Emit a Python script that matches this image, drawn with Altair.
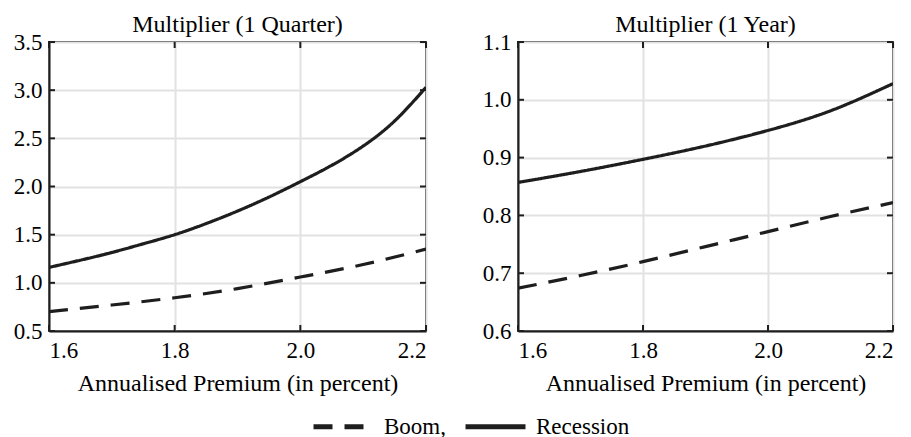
import altair as alt
import pandas as pd

# Annualised premium (in percent) on the horizontal axis
premium = [1.6, 1.7, 1.8, 1.9, 2.0, 2.1, 2.2]
premium_fine = [1.6, 1.65, 1.7, 1.75, 1.8, 1.85, 1.9, 1.95, 2.0, 2.05, 2.1, 2.15, 2.2]

# Multiplier after one quarter
quarter_boom = [0.70, 0.77, 0.845, 0.94, 1.06, 1.19, 1.35]
quarter_recession = [1.16, 1.235, 1.315, 1.405, 1.50, 1.615, 1.745, 1.89, 2.05,
                     2.22, 2.42, 2.68, 3.03]

# Multiplier after one year
year_boom = [0.674, 0.696, 0.720, 0.746, 0.772, 0.798, 0.822]
year_recession = [0.857, 0.876, 0.897, 0.920, 0.947, 0.981, 1.028]

x_ticks = [1.6, 1.8, 2.0, 2.2]
quarter_ticks = [0.5, 1.0, 1.5, 2.0, 2.5, 3.0, 3.5]
year_ticks = [0.6, 0.7, 0.8, 0.9, 1.0, 1.1]

series_names = ["Boom", "Recession"]

FONT = "Liberation Serif"
INK = "#1e1e1e"


def long_table(boom_x, boom, rec_x, recession):
    rows = []
    for name, xs, values in (("Boom", boom_x, boom), ("Recession", rec_x, recession)):
        for xv, yv in zip(xs, values):
            rows.append({"premium": xv, "multiplier": yv, "series": name})
    return pd.DataFrame(rows)


def panel(data, y_ticks, title, width, height):
    x_scale = alt.Scale(domain=[x_ticks[0], x_ticks[-1]], nice=False, zero=False)
    y_scale = alt.Scale(domain=[y_ticks[0], y_ticks[-1]], nice=False, zero=False)
    x_axis = alt.Axis(values=x_ticks, format=".1f",
                      title="Annualised Premium (in percent)",
                      labelFont=FONT, labelFontSize=23, labelColor="black",
                      titleFont=FONT, titleFontSize=24, titleColor="black",
                      titleFontWeight="normal", labelPadding=8, titlePadding=9)
    y_axis = alt.Axis(values=y_ticks, format=".1f", title=None,
                      labelFont=FONT, labelFontSize=23, labelColor="black",
                      labelPadding=7)
    X = alt.X("premium:Q", scale=x_scale, axis=x_axis)
    Y = alt.Y("multiplier:Q", scale=y_scale, axis=y_axis)

    lines = alt.Chart(data).mark_line(
        strokeWidth=3.2, color=INK, interpolate="natural", clip=True
    ).encode(
        x=X,
        y=Y,
        strokeDash=alt.StrokeDash(
            "series:N",
            scale=alt.Scale(domain=series_names, range=[[19, 12], [1, 0]]),
            legend=alt.Legend(
                title=None, orient="none", direction="horizontal",
                legendX=262, legendY=352,
                symbolType="stroke", symbolSize=3600, symbolStrokeWidth=5,
                symbolStrokeColor=INK,
                labelExpr="datum.label == 'Boom' ? 'Boom,' : datum.label",
                labelFont=FONT, labelFontSize=23, labelColor="black",
                labelOffset=8, columnPadding=9,
            ),
        ),
    )

    # short inward tick marks on all four sides of the frame
    xt = pd.DataFrame({"premium": x_ticks})
    yt = pd.DataFrame({"multiplier": y_ticks})
    tick_len = 6
    rule = dict(color=INK, strokeWidth=2)
    bottom = alt.Chart(xt).mark_rule(**rule).encode(
        x=X, y=alt.value(height), y2=alt.value(height - tick_len))
    top = alt.Chart(xt).mark_rule(**rule).encode(
        x=X, y=alt.value(0), y2=alt.value(tick_len))
    left = alt.Chart(yt).mark_rule(**rule).encode(
        y=Y, x=alt.value(0), x2=alt.value(tick_len))
    right = alt.Chart(yt).mark_rule(**rule).encode(
        y=Y, x=alt.value(width - tick_len), x2=alt.value(width))

    return alt.layer(lines, bottom, top, left, right).properties(
        width=width, height=height,
        title=alt.TitleParams(title, font=FONT, fontSize=24, fontWeight="normal",
                              color="black", anchor="middle", offset=0, dy=6),
    )


left_panel = panel(long_table(premium, quarter_boom, premium_fine, quarter_recession),
                   quarter_ticks, "Multiplier (1 Quarter)", 377, 289)
right_panel = panel(long_table(premium, year_boom, premium, year_recession),
                    year_ticks, "Multiplier (1 Year)", 375, 289)

chart = alt.hconcat(left_panel, right_panel, spacing=53).properties(
    padding={"left": 12, "top": 12, "right": 5, "bottom": 0},
    background="white",
).configure_view(
    stroke=INK, strokeWidth=2
).configure_axis(
    gridColor="#e2e2e2", gridWidth=2,
    domainColor=INK, domainWidth=2,
    ticks=False,
)

chart.save("out.html", embed_options={"renderer": "svg", "actions": False})
